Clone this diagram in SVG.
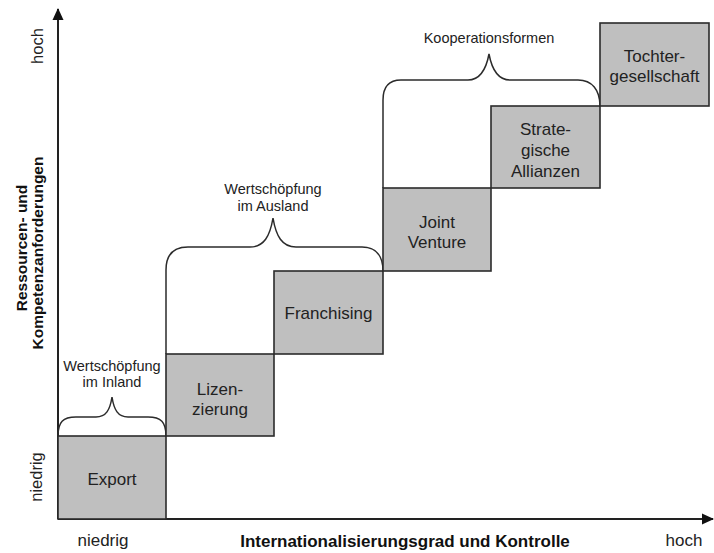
<svg xmlns="http://www.w3.org/2000/svg" width="714" height="553" viewBox="0 0 714 553">
<style>
.box{fill:#bfbfbf;stroke:#2b2b2b;stroke-width:1.6}
.bt{font-family:"Liberation Sans",Arial,sans-serif;font-size:17px;fill:#222;text-anchor:middle}
.lbl{font-family:"Liberation Sans",Arial,sans-serif;font-size:14.5px;fill:#222;text-anchor:middle}
.ax{font-family:"Liberation Sans",Arial,sans-serif;font-size:17px;fill:#222;text-anchor:middle}
.axb{font-family:"Liberation Sans",Arial,sans-serif;font-size:15.5px;font-weight:bold;fill:#111;text-anchor:middle}
.brace{fill:none;stroke:#2b2b2b;stroke-width:1.5}
.axis{fill:none;stroke:#222;stroke-width:2}
</style>
<defs>
<marker id="arr" viewBox="0 0 12 12" refX="11" refY="6" markerWidth="12" markerHeight="12" markerUnits="userSpaceOnUse" orient="auto">
<path d="M0,0.5 L12,6 L0,11.5 Z" fill="#111"/>
</marker>
</defs>
<rect width="714" height="553" fill="#fff"/>
<g id="connectors">
<path class="axis" d="M58,519 L58,9" marker-end="url(#arr)"/>
<path class="axis" d="M58,519 L713,519" marker-end="url(#arr)"/>
<path id="brace-inland" class="brace" d="M58,436 C58,422 63,417 76,417 L96,417 C106,417 110,410 112,397 C114,410 118,417 128,417 L148,417 C161,417 166,422 166,436"/>
<path id="brace-ausland" class="brace" d="M166,354 L166,270 C166,254 174,247 188,247 L250,247 C264,247 270,236 273,218 C276,236 282,247 296,247 L362,247 C376,247 383,256 383,271"/>
<path id="brace-koop" class="brace" d="M383,188 L383,100 C383,87 389,80 401,80 L468,80 C480,80 486,70 489,54 C492,70 498,80 510,80 L578,80 C592,80 600,90 600,106"/>
</g>
<g id="export"><rect class="box" x="58" y="436" width="108" height="83"/><text class="bt" x="112" y="485">Export</text></g>
<g id="lizenzierung"><rect class="box" x="166" y="354" width="108" height="82"/><text class="bt" x="220" y="394.5">Lizen-</text><text class="bt" x="220" y="415">zierung</text></g>
<g id="franchising"><rect class="box" x="274" y="271" width="109" height="83"/><text class="bt" x="328.5" y="319">Franchising</text></g>
<g id="joint-venture"><rect class="box" x="383" y="188" width="108" height="83"/><text class="bt" x="437" y="228">Joint</text><text class="bt" x="437" y="248">Venture</text></g>
<g id="strategische-allianzen"><rect class="box" x="491" y="106" width="109" height="82"/><text class="bt" x="545.5" y="135">Strate-</text><text class="bt" x="545.5" y="156">gische</text><text class="bt" x="545.5" y="177">Allianzen</text></g>
<g id="tochtergesellschaft"><rect class="box" x="600" y="23" width="109" height="83"/><text class="bt" x="654.5" y="62">Tochter-</text><text class="bt" x="654.5" y="82">gesellschaft</text></g>
<g id="labels">
<text class="lbl" x="112" y="370.5">Wertschöpfung</text>
<text class="lbl" x="112" y="387">im Inland</text>
<text class="lbl" x="273" y="194">Wertschöpfung</text>
<text class="lbl" x="273" y="211">im Ausland</text>
<text class="lbl" x="489" y="42.5">Kooperationsformen</text>
<text class="ax" x="103" y="546">niedrig</text>
<text class="ax" x="684" y="546">hoch</text>
<text class="axb" x="405" y="547" style="font-size:17px">Internationalisierungsgrad und Kontrolle</text>
<text class="ax" transform="translate(43,46) rotate(-90)" style="font-size:16.5px">hoch</text>
<text class="ax" transform="translate(42,477) rotate(-90)" style="font-size:16.5px">niedrig</text>
<text class="axb" transform="translate(27,248) rotate(-90)">Ressourcen- und</text>
<text class="axb" transform="translate(43,253) rotate(-90)">Kompetenzanforderungen</text>
</g>
</svg>
